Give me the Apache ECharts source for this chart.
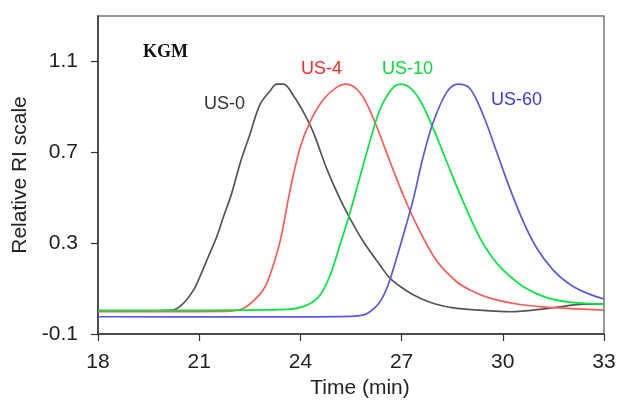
<!DOCTYPE html>
<html>
<head>
<meta charset="utf-8">
<title>KGM RI</title>
<style>
  html, body { margin: 0; padding: 0; background: #fff; }
  #main { width: 619px; height: 405px; }
</style>
</head>
<body>
<div id="main"></div>
<script src="https://cdn.jsdelivr.net/npm/echarts@6/dist/echarts.min.js"></script>
<script>
// elution curves (time in min, relative RI)
var us0Time  = [18, 19.5, 20.2, 20.5, 20.83, 21.02, 21.27, 21.52, 21.72, 21.96, 22.21, 22.51, 22.8, 23.1, 23.3, 23.5, 23.79, 24.09, 24.38, 24.78, 25.17, 25.47, 25.87, 26.36, 26.66, 27.1, 27.55, 28.0, 28.53, 29.33, 30.21, 31.3, 32.29, 33];
var us0Value = [0.002, 0.002, 0.005, 0.03, 0.093, 0.152, 0.24, 0.328, 0.416, 0.518, 0.65, 0.782, 0.91, 0.97, 1.0, 1.0, 0.95, 0.877, 0.789, 0.628, 0.496, 0.409, 0.306, 0.203, 0.145, 0.095, 0.057, 0.032, 0.015, 0.005, -0.002, 0.012, 0.03, 0.032];

var us4Time  = [18, 20, 21.8, 22.3, 22.6, 22.9, 23.1, 23.4, 23.69, 23.99, 24.29, 24.68, 25.08, 25.35, 25.77, 26.16, 26.66, 27.05, 27.45, 28.04, 28.63, 29.03, 29.62, 30.51, 31.5, 33];
var us4Value = [-0.002, -0.002, -0.001, 0.012, 0.045, 0.095, 0.16, 0.31, 0.53, 0.72, 0.835, 0.932, 0.987, 1.0, 0.962, 0.85, 0.657, 0.511, 0.379, 0.222, 0.13, 0.094, 0.058, 0.03, 0.016, 0.005];

var us10Time  = [18, 20, 22, 23.6, 24.19, 24.58, 24.88, 25.17, 25.42, 25.67, 25.97, 26.26, 26.46, 26.75, 27.0, 27.45, 27.94, 28.34, 28.83, 29.33, 29.7, 30.02, 30.61, 31.3, 31.99, 33];
var us10Value = [0.004, 0.004, 0.005, 0.008, 0.027, 0.071, 0.159, 0.291, 0.409, 0.54, 0.701, 0.848, 0.921, 0.985, 1.0, 0.951, 0.804, 0.657, 0.481, 0.321, 0.235, 0.18, 0.108, 0.06, 0.04, 0.031];

var us60Time  = [18, 22, 25.5, 25.87, 26.06, 26.3, 26.5, 26.7, 27.05, 27.35, 27.65, 27.94, 28.34, 28.68, 29.03, 29.42, 29.82, 30.21, 30.61, 31.0, 31.5, 31.99, 32.49, 33];
var us60Value = [-0.024, -0.025, -0.022, -0.016, -0.002, 0.03, 0.08, 0.16, 0.335, 0.496, 0.687, 0.833, 0.965, 1.0, 0.98, 0.863, 0.701, 0.54, 0.394, 0.28, 0.18, 0.118, 0.08, 0.054];

var yTicks = [-0.1, 0.3, 0.7, 1.1];

function pairs(t, v) {
    var out = [];
    for (var i = 0; i < t.length; i++) out.push([t[i], v[i]]);
    return out;
}

function line(name, t, v, color) {
    return {
        name: name,
        type: 'line',
        data: pairs(t, v),
        showSymbol: false,
        smooth: 0.35,
        lineStyle: { color: color, width: 1.7 },
        itemStyle: { color: color },
        animation: false
    };
}

var myChart = echarts.init(document.getElementById('main'));
var axisFont = { fontFamily: 'Liberation Sans, Arial', fontSize: 21, color: '#222' };

var option = {
    backgroundColor: '#fff',
    animation: false,
    grid: {
        left: 98, right: 15, top: 16, bottom: 71,
        show: true, borderColor: '#777', borderWidth: 1.5, backgroundColor: 'transparent'
    },
    xAxis: {
        type: 'value', min: 18, max: 33, interval: 3,
        name: 'Time (min)', nameLocation: 'middle', nameGap: 44,
        nameTextStyle: { fontFamily: 'Liberation Sans, Arial', fontSize: 21, color: '#222', padding: [0, 0, 0, 18] },
        axisLine: { onZero: false, lineStyle: { color: '#333', width: 1.5 } },
        axisTick: { inside: false, length: 7, lineStyle: { color: '#333', width: 1.2 } },
        axisLabel: Object.assign({ margin: 18 }, axisFont),
        splitLine: { show: false }
    },
    yAxis: {
        type: 'value', min: -0.1, max: 1.3,
        name: 'Relative RI scale', nameLocation: 'middle', nameGap: 62,
        nameTextStyle: { fontFamily: 'Liberation Sans, Arial', fontSize: 21, color: '#222' },
        axisLine: { show: true, onZero: false, lineStyle: { color: '#333', width: 1.5 } },
        axisTick: { show: true, inside: false, length: 7, customValues: yTicks, lineStyle: { color: '#333', width: 1.2 } },
        axisLabel: Object.assign({
            margin: 20, customValues: yTicks,
            formatter: function (v) { return v.toFixed(1); }
        }, axisFont),
        splitLine: { show: false }
    },
    graphic: [
        { type: 'text', left: 143, top: 43, style: { text: 'KGM', font: 'bold 18px "Liberation Serif", "Times New Roman", serif', fill: '#111' } },
        { type: 'text', left: 204, top: 95, style: { text: 'US-0', font: '18px "Liberation Sans", Arial', fill: '#333' } },
        { type: 'text', left: 301, top: 60, style: { text: 'US-4', font: '18px "Liberation Sans", Arial', fill: '#ff2a2a' } },
        { type: 'text', left: 382, top: 60, style: { text: 'US-10', font: '18px "Liberation Sans", Arial', fill: '#00dd33' } },
        { type: 'text', left: 491, top: 91, style: { text: 'US-60', font: '18px "Liberation Sans", Arial', fill: '#3a3ae0' } }
    ],
    series: [
        line('US-0', us0Time, us0Value, '#555555'),
        line('US-4', us4Time, us4Value, '#ff5a5a'),
        line('US-10', us10Time, us10Value, '#00e640'),
        line('US-60', us60Time, us60Value, '#5a5ae0')
    ]
};
myChart.setOption(option);
</script>
</body>
</html>
